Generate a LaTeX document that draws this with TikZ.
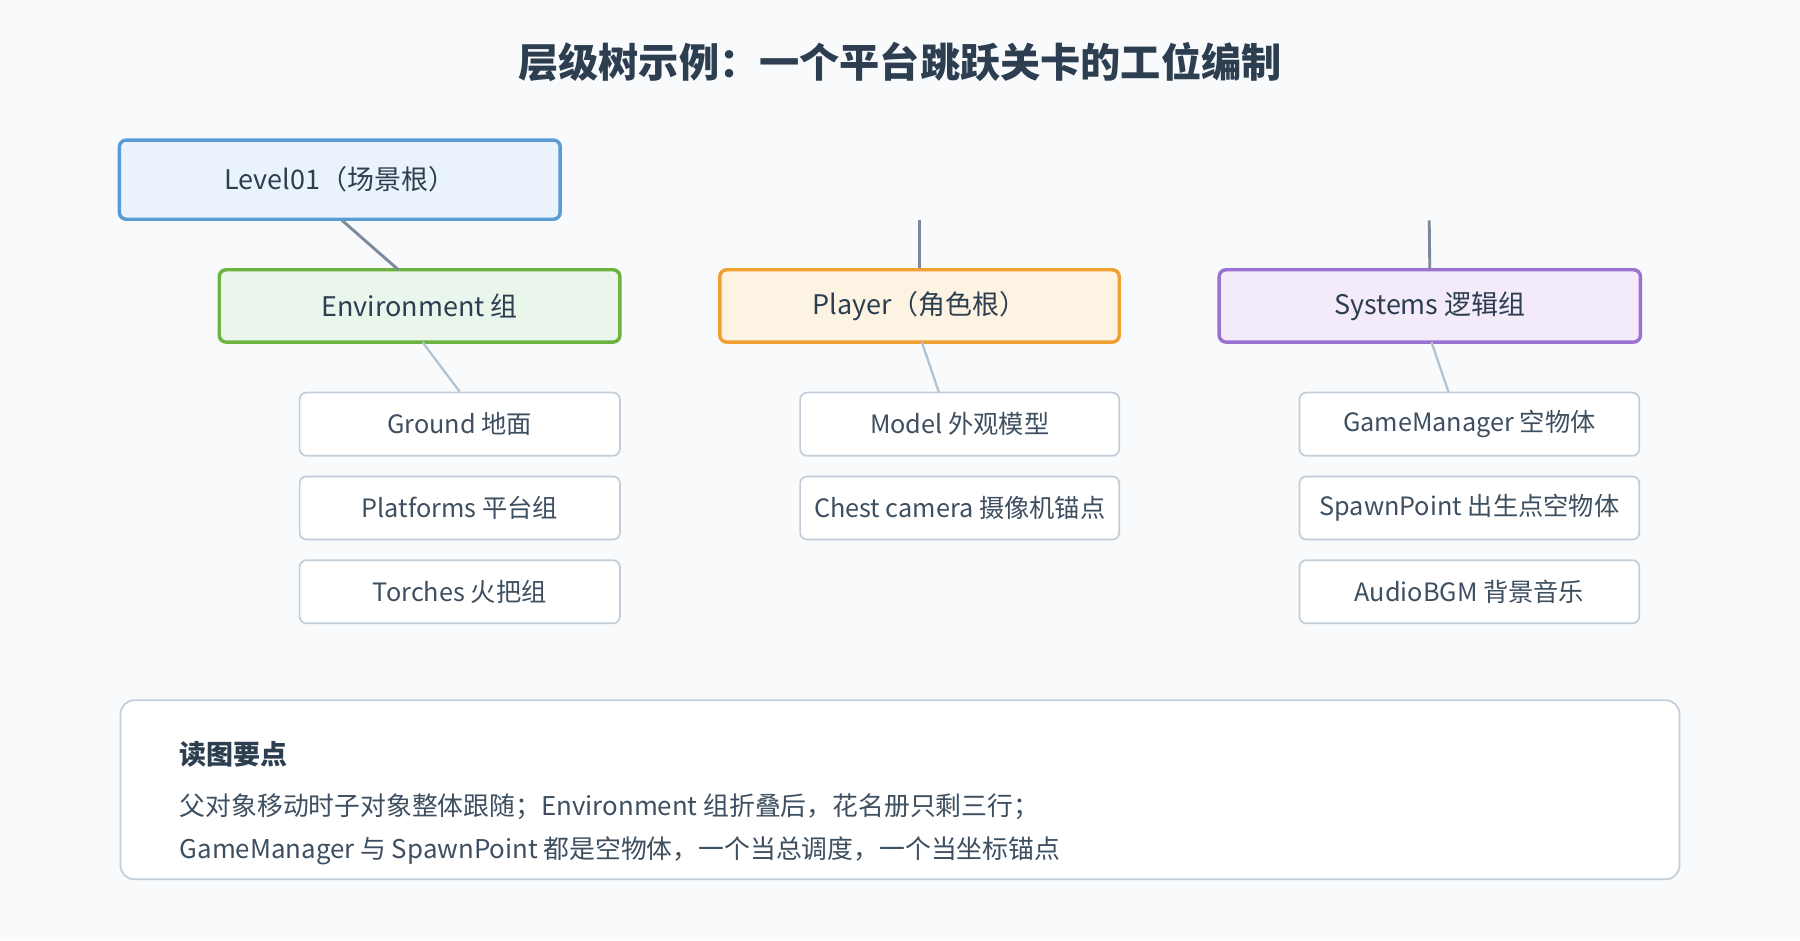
\documentclass[tikz,border=0pt]{standalone}
\usepackage{fontspec}
\setmainfont{Noto Sans CJK SC}
\begin{document}
\definecolor{bg}{HTML}{F8FAFC}
\definecolor{ink}{HTML}{2C3E50}
\definecolor{sub}{HTML}{3D4F60}
\definecolor{cbd}{HTML}{C3CED8}
\definecolor{lvd}{HTML}{5B9BD5}\definecolor{lvf}{HTML}{EAF3FC}
\definecolor{evd}{HTML}{6DB33F}\definecolor{evf}{HTML}{EAF6EC}
\definecolor{pld}{HTML}{F0A030}\definecolor{plf}{HTML}{FDF3E3}
\definecolor{syd}{HTML}{9B72CF}\definecolor{syf}{HTML}{F3EBFA}
\definecolor{lk1}{HTML}{7A8A9A}\definecolor{lk2}{HTML}{B0C4D4}
\begin{tikzpicture}[x=1pt,y=-1pt,
  grp/.style={draw, line width=3pt, rounded corners=6pt, text=ink, font=\fontsize{23.5}{26}\selectfont},
  kid/.style={draw=cbd, fill=white, line width=1.5pt, rounded corners=6pt, text=sub, font=\fontsize{22}{26}\selectfont},
  lk/.style={draw=#1, line width=2.5pt}]
\fill[bg] (0,0) rectangle (1568,819);
\useasboundingbox (0,0) rectangle (1568,819);
\node[text=ink, font=\bfseries\fontsize{35}{40}\selectfont] (title) at (784,54) {层级树示例：一个平台跳跃关卡的工位编制};
\node[grp, draw=lvd, fill=lvf, minimum width=384pt, minimum height=69pt] (lv) at (296,156.5) {Level01（场景根）};
\node[grp, draw=evd, fill=evf, minimum width=349pt, minimum height=63pt] (env) at (365.5,266.5) {Environment 组};
\node[grp, draw=pld, fill=plf, minimum width=348pt, minimum height=63pt] (pl) at (801,266.5) {Player（角色根）};
\node[grp, draw=syd, fill=syf, minimum width=367pt, minimum height=63pt] (sys) at (1245.5,266.5) {Systems 逻辑组};
\coordinate (ps) at (801,192);
\coordinate (ss) at (1245,192);
\draw[lk=lk1] (298,192) -- (347,235);
\draw[lk=lk1] (ps) -- (pl.north);
\draw[lk=lk1] (ss) -- (sys.north);
\foreach \n/\t/\y in {g/Ground 地面/369.5, p/Platforms 平台组/442.5, t/Torches 火把组/515.5}
  \node[kid, minimum width=279pt, minimum height=55pt] (\n) at (400.5,\y) {\t};
\foreach \n/\t/\y in {m/Model 外观模型/369.5, c/Chest camera 摄像机锚点/442.5}
  \node[kid, minimum width=278pt, minimum height=55pt] (\n) at (836,\y) {\t};
\foreach \n/\t/\y in {gm/GameManager 空物体/369.5, sp/SpawnPoint 出生点空物体/442.5, au/AudioBGM 背景音乐/515.5}
  \node[kid, minimum width=296pt, minimum height=55pt] (\n) at (1280,\y) {\t};
\draw[lk=lk2, line width=2pt] (368,298) -- (g.north);
\draw[lk=lk2, line width=2pt] (803,298) -- (818,342);
\draw[lk=lk2, line width=2pt] (1247,298) -- (1262,342);
\node[draw=cbd, fill=white, line width=1.5pt, rounded corners=12pt, minimum width=1358pt, minimum height=156pt] (box) at (784,688) {};
\node[anchor=west, text=ink, font=\bfseries\fontsize{23.5}{26}\selectfont] (bt) at (153,657) {读图要点};
\node[anchor=west, text=sub, font=\fontsize{22.5}{26}\selectfont] (l1) at (153,703) {父对象移动时子对象整体跟随；Environment 组折叠后，花名册只剩三行；};
\node[anchor=west, text=sub, font=\fontsize{22.5}{26}\selectfont] (l2) at (153,741) {GameManager 与 SpawnPoint 都是空物体，一个当总调度，一个当坐标锚点};
\end{tikzpicture}
\end{document}
